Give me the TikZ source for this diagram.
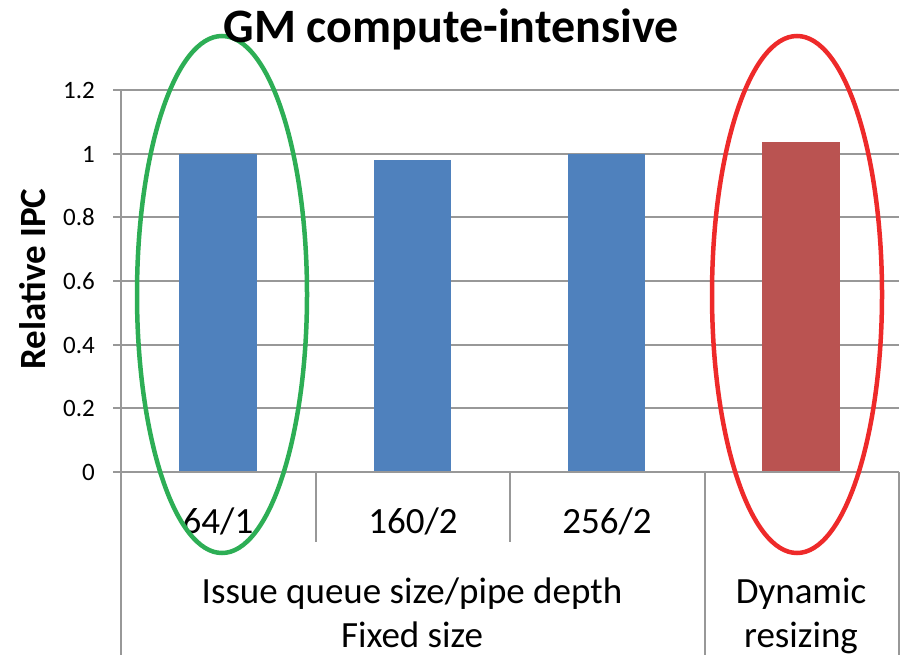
\documentclass[tikz,border=0pt]{standalone}
\usepackage{fontspec}
\setmainfont{Carlito}
\usepackage{tikz}
\definecolor{barblue}{HTML}{4F81BD}
\definecolor{barred}{HTML}{BA5351}
\definecolor{ringgreen}{HTML}{2DAE55}
\definecolor{ringred}{HTML}{EE2A2A}
\definecolor{gridgray}{HTML}{989898}
\tikzset{
  gridline/.style={line width=1.5pt, color=gridgray},
  ticklabel/.style={anchor=east, inner sep=0pt, font=\fontsize{25}{30}\selectfont},
  catlabel/.style={anchor=base, inner sep=0pt, font=\fontsize{37}{44}\selectfont},
  ring/.style={line width=4.5pt}
}

\begin{document}
\begin{tikzpicture}[x=1pt, y=-1pt]
			%%%%% FRAME %%%%%
			\useasboundingbox (0, 0) rectangle (901, 655);
			
			%%%%% GRID %%%%%
			\draw[gridline] (113, 90) -- (899, 90);
			\draw[gridline] (113, 154) -- (899, 154);
			\draw[gridline] (113, 217) -- (899, 217);
			\draw[gridline] (113, 281) -- (899, 281);
			\draw[gridline] (113, 345) -- (899, 345);
			\draw[gridline] (113, 408) -- (899, 408);
			
			\node[ticklabel] (t12) at (95, 90) {1.2};
			\node[ticklabel] (t10) at (95, 154) {1};
			\node[ticklabel] (t08) at (95, 217) {0.8};
			\node[ticklabel] (t06) at (95, 281) {0.6};
			\node[ticklabel] (t04) at (95, 345) {0.4};
			\node[ticklabel] (t02) at (95, 408) {0.2};
			\node[ticklabel] (t00) at (95, 472) {0};
			
			%%%%% BARS %%%%%
			\fill[barblue] (179, 472) rectangle (257, 154);
			\fill[barblue] (374, 472) rectangle (451, 160);
			\fill[barblue] (568, 472) rectangle (645, 154);
			\fill[barred] (762, 472) rectangle (840, 142);
			
			%%%%% AXES %%%%%
			\draw[gridline] (121, 90) -- (121, 655);
			\draw[gridline] (113, 472) -- (899, 472);
			\draw[gridline] (316, 472) -- (316, 542);
			\draw[gridline] (510, 472) -- (510, 542);
			\draw[gridline] (705, 472) -- (705, 655);
			\draw[gridline] (899, 472) -- (899, 655);
			
			%%%%% LABELS %%%%%
			\node[catlabel] (c64) at (218, 533) {64/1};
			\node[catlabel] (c160) at (413, 533) {160/2};
			\node[catlabel] (c256) at (607, 533) {256/2};
			\node[catlabel] (fixedtop) at (412, 603) {Issue queue size/pipe depth};
			\node[catlabel] (fixedbot) at (412, 647) {Fixed size};
			\node[catlabel] (dyntop) at (801, 603) {Dynamic};
			\node[catlabel] (dynbot) at (801, 647) {resizing};
			
			\node[rotate=90, anchor=base, inner sep=0pt, font=\fontsize{37}{44}\selectfont\bfseries] (ylab) at (45, 279) {Relative IPC};
			
			%%%%% RINGS %%%%%
			\draw[ring, ringgreen] (222, 294.5) ellipse (85 and 258.5);
			\draw[ring, ringred] (797, 294.5) ellipse (85 and 258.5);
			
			\node[anchor=base, inner sep=0pt, font=\fontsize{48}{57}\selectfont\bfseries] (title) at (451, 43) {GM compute-intensive};
		\end{tikzpicture}
\end{document}
